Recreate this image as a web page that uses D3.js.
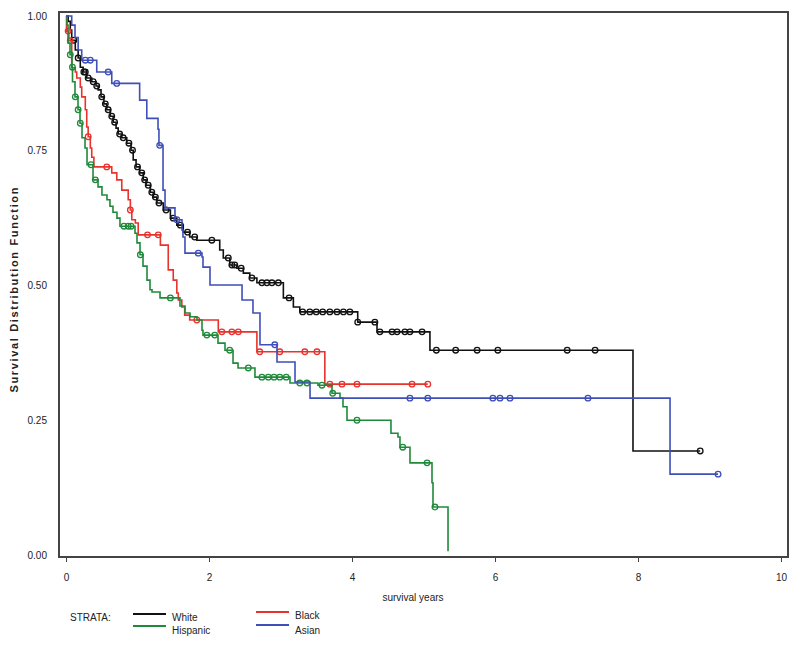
<!DOCTYPE html>
<html><head><meta charset="utf-8">
<script src="https://cdn.jsdelivr.net/npm/d3@7"></script>
<style>body{margin:0;background:#fff}svg{display:block}text{font-family:"Liberation Sans",Arial,sans-serif;fill:#222}</style>
</head><body><svg id="c" width="800" height="648"></svg>
<script>
// Kaplan-Meier step points [years, survival]
const whiteSteps=[[0,1],[0.03,0.99],[0.06,0.974],[0.08,0.955],[0.13,0.937],[0.17,0.922],[0.20,0.905],[0.24,0.896],[0.29,0.885],[0.36,0.878],[0.42,0.87],[0.45,0.863],[0.49,0.85],[0.53,0.837],[0.57,0.826],[0.62,0.814],[0.66,0.803],[0.70,0.792],[0.73,0.781],[0.78,0.774],[0.85,0.764],[0.91,0.751],[0.94,0.733],[0.98,0.72],[1.03,0.709],[1.08,0.696],[1.12,0.686],[1.18,0.673],[1.22,0.664],[1.27,0.653],[1.36,0.64],[1.46,0.625],[1.55,0.612],[1.64,0.599],[1.73,0.59],[1.83,0.584],[2.15,0.566],[2.20,0.551],[2.29,0.538],[2.39,0.532],[2.48,0.523],[2.57,0.514],[2.67,0.505],[3.04,0.477],[3.18,0.46],[3.27,0.451],[4.08,0.432],[4.35,0.414],[5.09,0.38],[7.93,0.193]];
const whiteEnd=8.87;
const whiteCensor=[0.11,0.17,0.25,0.27,0.31,0.38,0.43,0.5,0.55,0.59,0.64,0.68,0.75,0.8,0.88,0.93,1.0,1.06,1.1,1.15,1.2,1.25,1.3,1.4,1.5,1.6,1.7,1.8,2.04,2.27,2.32,2.36,2.45,2.6,2.74,2.81,2.88,2.97,3.12,3.31,3.41,3.50,3.59,3.69,3.79,3.88,3.97,4.08,4.32,4.39,4.56,4.63,4.74,4.81,4.98,5.18,5.45,5.75,6.04,7.01,7.40,8.87];

const blackSteps=[[0,1],[0.007,0.972],[0.04,0.954],[0.08,0.904],[0.13,0.896],[0.15,0.885],[0.20,0.868],[0.22,0.85],[0.27,0.826],[0.29,0.794],[0.31,0.776],[0.34,0.755],[0.36,0.738],[0.39,0.72],[0.64,0.709],[0.71,0.696],[0.78,0.677],[0.87,0.659],[0.90,0.64],[0.92,0.622],[0.97,0.616],[1.01,0.594],[1.32,0.575],[1.43,0.529],[1.50,0.51],[1.55,0.486],[1.57,0.473],[1.62,0.46],[1.66,0.445],[1.73,0.436],[2.13,0.414],[2.67,0.377],[3.62,0.317]];
const blackEnd=5.06;
const blackCensor=[0.03,0.06,0.31,0.57,0.90,1.14,1.29,1.83,2.18,2.32,2.41,2.71,2.99,3.34,3.51,3.69,3.86,4.07,4.84,5.06];

const hispSteps=[[0,1],[0.014,0.983],[0.028,0.95],[0.056,0.928],[0.084,0.905],[0.091,0.878],[0.126,0.85],[0.168,0.826],[0.196,0.801],[0.224,0.774],[0.266,0.755],[0.294,0.724],[0.378,0.696],[0.448,0.683],[0.503,0.668],[0.573,0.659],[0.615,0.647],[0.657,0.636],[0.713,0.625],[0.755,0.61],[0.965,0.597],[0.993,0.579],[1.035,0.557],[1.077,0.536],[1.133,0.51],[1.175,0.492],[1.203,0.488],[1.315,0.477],[1.594,0.462],[1.664,0.449],[1.734,0.442],[1.832,0.436],[1.902,0.417],[1.916,0.408],[2.126,0.393],[2.224,0.38],[2.336,0.356],[2.406,0.347],[2.643,0.33],[3.133,0.319],[3.524,0.315],[3.72,0.30],[3.832,0.291],[3.874,0.275],[3.93,0.25],[4.545,0.226],[4.643,0.219],[4.671,0.2],[4.811,0.171],[5.119,0.134],[5.133,0.089],[5.343,0.007]];
const hispEnd=5.343;
const hispCensor=[0.06,0.09,0.13,0.17,0.2,0.35,0.41,0.81,0.87,0.91,1.04,1.46,1.97,2.08,2.29,2.55,2.74,2.83,2.91,2.99,3.08,3.27,3.37,3.58,3.73,4.07,4.71,5.05,5.16];

const asianSteps=[[0,1],[0.08,0.983],[0.126,0.96],[0.17,0.937],[0.22,0.918],[0.43,0.896],[0.64,0.875],[1.03,0.844],[1.13,0.81],[1.287,0.79],[1.30,0.76],[1.357,0.677],[1.385,0.644],[1.524,0.622],[1.622,0.603],[1.636,0.59],[1.664,0.56],[1.902,0.553],[1.916,0.534],[2.014,0.501],[2.462,0.473],[2.615,0.449],[2.713,0.39],[2.951,0.358],[3.203,0.321],[3.413,0.291],[8.448,0.15]];
const asianEnd=9.12;
const asianCensor=[0.27,0.34,0.59,0.71,1.31,1.55,1.85,2.92,4.81,5.06,5.97,6.07,6.21,7.30,9.12];

const strata=["White","Black","Hispanic","Asian"];
const colors=["#111111","#e8322c","#1f8a3a","#3f4fb8"];
const xTicks=[0,2,4,6,8,10];
const yTicks=[0,0.25,0.5,0.75,1];

const series=[
 {name:"White",steps:whiteSteps,end:whiteEnd,cens:whiteCensor,color:colors[0]},
 {name:"Black",steps:blackSteps,end:blackEnd,cens:blackCensor,color:colors[1]},
 {name:"Hispanic",steps:hispSteps,end:hispEnd,cens:hispCensor,color:colors[2]},
 {name:"Asian",steps:asianSteps,end:asianEnd,cens:asianCensor,color:colors[3]}
];

const svg=d3.select("#c");
const x=d3.scaleLinear([0,10],[66,781]);
const y=d3.scaleLinear([0,1],[555,16]);

// frame
svg.append("rect").attr("x",59).attr("y",12).attr("width",729).attr("height",545)
  .attr("fill","none").attr("stroke","#444").attr("stroke-width",2);

// axes
const xa=svg.append("g").attr("transform","translate(0,557)")
  .call(d3.axisBottom(x).tickValues(xTicks).tickFormat(d3.format("d")).tickSize(5).tickPadding(12));
xa.select(".domain").remove();
xa.selectAll("line").attr("stroke","#444");
xa.selectAll("text").attr("font-size",10).attr("fill","#333");

const ya=svg.append("g").attr("transform","translate(59,0)")
  .call(d3.axisLeft(y).tickValues(yTicks).tickFormat(d3.format(".2f")).tickSize(0).tickPadding(12));
ya.select(".domain").remove();
ya.selectAll("text").attr("font-size",10).attr("fill","#333");

svg.append("text").attr("x",413).attr("y",601).attr("text-anchor","middle").attr("font-size",10).text("survival years");
svg.append("text").attr("transform","translate(18,290) rotate(-90)").attr("text-anchor","middle")
  .attr("font-size",11).attr("font-weight","bold").attr("textLength",205).attr("lengthAdjust","spacing").text("Survival Distribution Function");

const line=d3.line().x(d=>x(d[0])).y(d=>y(d[1])).curve(d3.curveStepAfter);
function sAt(steps,t){let s=steps[0][1];for(const p of steps){if(p[0]<=t)s=p[1];}return s;}

series.forEach(sr=>{
  const pts=sr.steps.slice();
  const last=pts[pts.length-1];
  if(sr.end>last[0]) pts.push([sr.end,last[1]]);
  svg.append("path").attr("d",line(pts)).attr("fill","none").attr("stroke",sr.color).attr("stroke-width",1.6);
  svg.append("g").selectAll("circle").data(sr.cens).join("circle")
    .attr("cx",d=>x(d)).attr("cy",d=>y(sAt(sr.steps,d))).attr("r",2.8)
    .attr("fill","none").attr("stroke",sr.color).attr("stroke-width",1.3);
});

// legend
svg.append("text").attr("x",70).attr("y",621).attr("font-size",10).text("STRATA:");
const leg=[
 {name:strata[0],c:colors[0],lx:133,ly:614,ty:621},
 {name:strata[2],c:colors[2],lx:133,ly:626,ty:634},
 {name:strata[1],c:colors[1],lx:256,ly:612,ty:619},
 {name:strata[3],c:colors[3],lx:256,ly:625,ty:634}
];
leg.forEach(l=>{
  svg.append("line").attr("x1",l.lx).attr("x2",l.lx+33).attr("y1",l.ly).attr("y2",l.ly).attr("stroke",l.c).attr("stroke-width",1.8);
  svg.append("text").attr("x",l.lx+39).attr("y",l.ty).attr("font-size",10).text(l.name);
});
</script></body></html>
